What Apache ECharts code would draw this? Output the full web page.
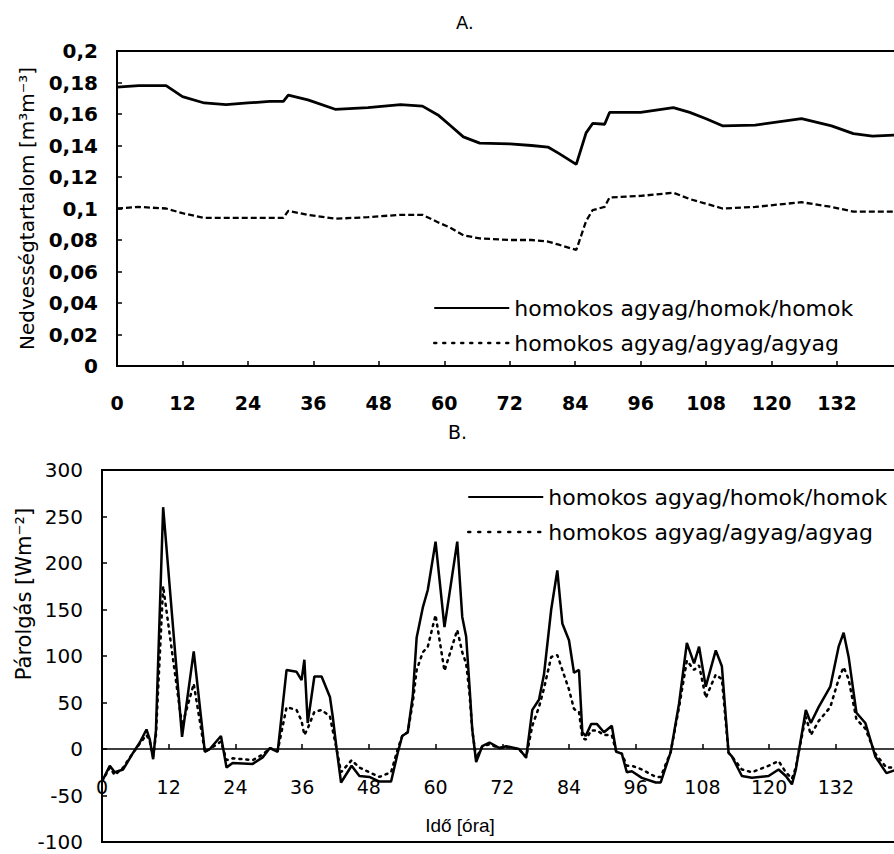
<!DOCTYPE html>
<html><head><meta charset="utf-8">
<script src="https://cdn.jsdelivr.net/npm/echarts@6/dist/echarts.min.js"></script>
<style>html,body{margin:0;padding:0;background:#fff;overflow:hidden}#c{width:894px;height:854px}</style>
</head><body><div id="c"></div>
<script>
// ---- Data ----
const seriesNames = ['homokos agyag/homok/homok', 'homokos agyag/agyag/agyag'];
const yTitleA = 'Nedvességtartalom [m³m⁻³]';
const yTitleB = 'Párolgás [Wm⁻²]';
const xTitleB = 'Idő [óra]';
const panelTitles = ['A.', 'B.'];

// Panel A: soil moisture (m3/m3) vs hour
const hoursA = [0,4,9,12,16,20,24,28,30.5,31.4,35,40,46,52,56,59,61,63.5,66.5,72,76,79,81,84.2,86,87.2,89.4,90.3,96,102,105,108,111,117,125.5,131,135,138.5,143];
const moistSand = [0.177,0.178,0.178,0.171,0.167,0.166,0.167,0.168,0.168,0.172,0.169,0.163,0.164,0.166,0.165,0.159,0.153,0.1455,0.1415,0.141,0.140,0.139,0.135,0.128,0.148,0.154,0.1535,0.161,0.161,0.164,0.161,0.157,0.1525,0.153,0.157,0.1525,0.1475,0.146,0.1467];
const moistClay = [0.100,0.101,0.100,0.097,0.094,0.094,0.094,0.094,0.094,0.0985,0.096,0.0935,0.0945,0.096,0.096,0.091,0.088,0.083,0.081,0.080,0.080,0.079,0.077,0.0737,0.092,0.099,0.101,0.107,0.108,0.110,0.106,0.103,0.100,0.101,0.104,0.101,0.098,0.098,0.098];

// Panel B: evaporation (W/m2) vs hour
const hoursB = [0,1.4,2.3,3.8,5.6,6.8,8,8.6,9.2,9.7,
  11,14.4,16.5,18.5,19.4,21.4,22.4,23.5,27.1,28.9,
  30.2,31.6,33.2,35,35.9,36.4,37,38.2,39.5,41,
  41.5,42.2,43,44.9,46.3,48.1,49.9,52,53.2,54,
  55,55.9,56.6,57.7,58.6,60,61.6,63.9,64.8,65.5,
  66.1,66.6,67.3,68.4,69.7,71.5,72.7,75,76.3,77.4,
  78.6,79.5,80.8,81.9,82.8,84,84.9,85.8,86.4,87,
  88,89,90.3,91.7,92.5,93.5,94.4,95.3,97.1,99.6,
  100.5,102.3,103.8,105.2,106.5,107.4,108.6,110.4,111.5,112.7,
  113.3,115.1,116.9,119.9,121.7,123,124.1,124.8,125.3,126.6,
  127.5,128.9,131,132.5,133.4,134.3,135.7,137.3,139.1,141.1,
  143];
const evapSand = [-35,-18,-25,-22,-4,7,21,10,-11,20,
  260,13,105,-3,0,14,-20,-15,-16,-9,
  1,-3,85,83,74,96,28,78,78,56,
  35,0,-36,-18,-29,-30,-35,-35,-4,14,
  18,57,120,152,171,223,131,223,142,121,
  68,21,-14,3,7,1,3,0,-9,42,
  53,80,150,192,135,117,82,85,18,14,
  27,27,18,25,-3,-5,-25,-24,-31,-36,
  -36,-3,49,114,92,110,67,106,89,-4,
  -8,-29,-31,-29,-22,-29,-38,-22,-4,42,
  28,45,67,110,125,99,39,28,-8,-26,
  -22];
const evapClay = [-35,-20,-28,-20,-4,6,15,8,-8,15,
  175,25,70,-3,0,8,-12,-10,-12,-6,
  1,-2,45,42,30,15,22,40,42,35,
  20,0,-25,-12,-20,-25,-30,-25,0,14,
  18,50,85,104,110,144,84,128,104,92,
  60,20,-10,3,5,1,2,0,-9,25,
  45,65,99,101,85,64,43,40,12,10,
  20,20,15,15,-3,-5,-18,-18,-22,-30,
  -30,-3,45,95,85,90,55,80,75,-4,
  -8,-22,-25,-18,-13,-25,-32,-20,-4,35,
  15,30,45,75,88,75,32,22,-5,-20,
  -20];

// ---- Chart ----
const zip = (xs, ys) => xs.map((x, i) => [x, ys[i]]);
const WIDE = 'DejaVu Sans';
const ARIAL = 'Liberation Sans, Arial, sans-serif';
const black = '#000';

const chart = echarts.init(document.getElementById('c'), null, {renderer: 'svg'});

// panel B geometry: y range -100..300 over 372 px; x axis drawn at value 0
const gridB = {top: 470, height: 372};
const yMinB = -100, yMaxB = 300;
const zeroOffsetB = -Math.round(gridB.height * (0 - yMinB) / (yMaxB - yMinB));

const legendBase = {
  orient: 'vertical', itemWidth: 75, itemHeight: 14, itemGap: 11,
  selectedMode: false,
  itemStyle: {opacity: 0, borderWidth: 0},
  textStyle: {fontFamily: WIDE, fontSize: 22, color: black, lineHeight: 24}
};

chart.setOption({
  animation: false,
  backgroundColor: '#fff',
  grid: [
    {left: 117, top: 51, right: -3, height: 315, outerBoundsMode: 'none', containLabel: false,
     show: true, borderColor: black, borderWidth: 2, backgroundColor: 'transparent'},
    {left: 102, top: gridB.top, right: -3, height: gridB.height, outerBoundsMode: 'none', containLabel: false,
     show: true, borderColor: black, borderWidth: 2, backgroundColor: 'transparent'}
  ],
  xAxis: [
    {gridIndex: 0, type: 'value', min: 0, max: 143, interval: 12,
     axisLine: {lineStyle: {color: black, width: 2}},
     axisTick: {inside: true, length: 5, lineStyle: {color: black, width: 1.5}},
     axisLabel: {margin: 27, showMaxLabel: false, color: black, fontFamily: WIDE, fontWeight: 'bold', fontSize: 19},
     splitLine: {show: false}},
    {gridIndex: 1, type: 'value', min: 0, max: 143, interval: 12, position: 'bottom', offset: zeroOffsetB,
     axisLine: {onZero: false, lineStyle: {color: black, width: 1.5}},
     axisTick: {inside: true, length: 5, lineStyle: {color: black, width: 1.5}},
     axisLabel: {margin: 28, showMaxLabel: false, color: black, fontFamily: WIDE, fontSize: 19},
     splitLine: {show: false}}
  ],
  yAxis: [
    {gridIndex: 0, type: 'value', min: 0, max: 0.2, interval: 0.02,
     axisLine: {show: true, lineStyle: {color: black, width: 2}},
     axisTick: {show: true, inside: true, length: 5, lineStyle: {color: black, width: 1.5}},
     axisLabel: {margin: 19, color: black, fontFamily: WIDE, fontWeight: 'bold', fontSize: 20,
       formatter: v => v === 0 ? '0' : String(+v.toFixed(2)).replace('.', ',')},
     splitLine: {show: false},
     name: yTitleA, nameLocation: 'middle', nameGap: 80,
     nameTextStyle: {fontFamily: WIDE, fontSize: 20, color: black}},
    {gridIndex: 1, type: 'value', min: yMinB, max: yMaxB, interval: 50,
     axisLine: {show: true, onZero: false, lineStyle: {color: black, width: 2}},
     axisTick: {show: true, inside: true, length: 5, lineStyle: {color: black, width: 1.5}},
     axisLabel: {margin: 19, color: black, fontFamily: WIDE, fontSize: 20},
     splitLine: {show: false}}
  ],
  legend: [
    Object.assign({}, legendBase, {left: 428, top: 291,
      data: [{name: seriesNames[0]}, {name: seriesNames[1], lineStyle: {type: [2, 7], width: 2.5, cap: 'round'}}]}),
    Object.assign({}, legendBase, {left: 462, top: 480,
      data: [{name: seriesNames[0]}, {name: seriesNames[1], lineStyle: {type: [2, 8], width: 2.5, cap: 'round'}}]})
  ],
  graphic: [
    {type: 'text', left: 456, top: 13, style: {text: panelTitles[0], fontFamily: WIDE, fontSize: 18, fill: black}},
    {type: 'text', left: 448, top: 422, style: {text: panelTitles[1], fontFamily: WIDE, fontSize: 19, fill: black}},
    {type: 'text', x: 24, y: 594, rotation: Math.PI / 2,
     style: {text: yTitleB, fontFamily: WIDE, fontSize: 21, fill: black, align: 'center', verticalAlign: 'middle'}},
    {type: 'text', x: 460, y: 825,
     style: {text: xTitleB, fontFamily: ARIAL, fontSize: 19, fill: black, align: 'center', verticalAlign: 'middle'}}
  ],
  series: [
    {type: 'line', name: seriesNames[0], xAxisIndex: 0, yAxisIndex: 0, data: zip(hoursA, moistSand),
     symbol: 'none', color: black, lineStyle: {color: black, width: 2.8}},
    {type: 'line', name: seriesNames[1], xAxisIndex: 0, yAxisIndex: 0, data: zip(hoursA, moistClay),
     symbol: 'none', color: black, lineStyle: {color: black, width: 2.3, type: [6, 3]}},
    {type: 'line', name: seriesNames[0], xAxisIndex: 1, yAxisIndex: 1, data: zip(hoursB, evapSand),
     symbol: 'none', color: black, lineStyle: {color: black, width: 2.5}},
    {type: 'line', name: seriesNames[1], xAxisIndex: 1, yAxisIndex: 1, data: zip(hoursB, evapClay),
     symbol: 'none', color: black, lineStyle: {color: black, width: 2.5, type: [2, 5], cap: 'round'}}
  ]
});
</script>
</body></html>
